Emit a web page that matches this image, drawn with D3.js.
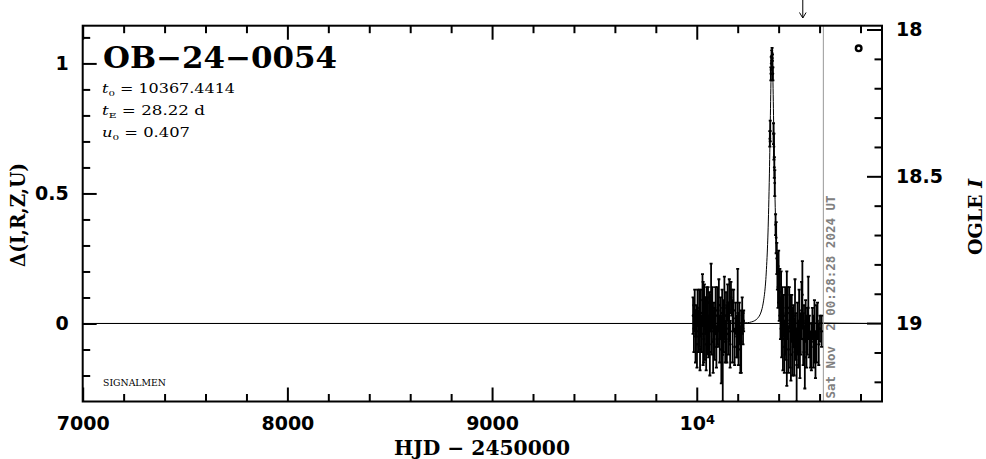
<!DOCTYPE html>
<html>
<head>
<meta charset="utf-8">
<script src="https://cdn.jsdelivr.net/npm/d3@7"></script>
<style>
  html, body { margin: 0; padding: 0; background: #fff; }
  svg { display: block; }
</style>
</head>
<body>
<svg id="chart" width="986" height="459"></svg>
<script>
// ---------------- DATA ----------------
const eventName = "OB\u221224\u22120054";
const paramT0 = "10367.4414";
const paramTE = "28.22";
const paramU0 = "0.407";
const dateStamp = "Sat Nov  2 00:28:28 2024 UT";

const xTicksMajor = [7000, 8000, 9000, 10000];
const xTickLabels = ["7000", "8000", "9000", "10^4"];
const yTicksMajor = [0, 0.5, 1];
const yTickLabels = ["0", "0.5", "1"];
const magTicksMajor = [18, 18.5, 19];
const magTickLabels = ["18", "18.5", "19"];

// observations: HJD-2450000, delta flux, error
const obsHJD = [
  9982, 9986, 9990, 9994, 9998, 10001, 10004, 10008, 10012, 10016,
  10020, 10024, 10028, 10031, 10034, 10037, 10040, 10043, 10046, 10049,
  10052, 10055, 10058, 10061, 10064, 10067, 10070, 10073, 10076, 10080,
  10084, 10088, 10092, 10096, 10100, 10104, 10108, 10112, 10116, 10120,
  10124, 10127, 10131, 10135, 10139, 10143, 10147, 10151, 10155, 10159,
  10163, 10167, 10171, 10175, 10180, 10185, 10190, 10195, 10200, 10204,
  10208, 10213, 10217, 10222, 10226, 10229,
  10357, 10359, 10362, 10364, 10366, 10368, 10370, 10372, 10375, 10377,
  10379, 10381, 10385, 10388, 10391, 10394, 10397, 10400, 10403, 10406,
  10409, 10412, 10415, 10418, 10421, 10424, 10428, 10432, 10436, 10440,
  10444, 10448, 10452, 10456, 10460, 10464, 10468, 10472, 10476, 10480,
  10484, 10488, 10492, 10496, 10500, 10504, 10508, 10512, 10516, 10520,
  10524, 10528, 10532, 10536, 10540, 10545, 10550, 10555, 10560, 10565,
  10570, 10575, 10580, 10585, 10590, 10596, 10602, 10610
];
const obsDelta = [
  0.03, -0.02, 0.05, -0.05, 0.01, -0.08, 0.06, -0.03, 0.02, -0.10,
  0.04, -0.04, 0.09, 0.00, -0.06, 0.07, -0.02, 0.03, -0.08, 0.05,
  -0.01, 0.08, -0.05, 0.02, -0.11, 0.04, 0.12, -0.03, 0.06, -0.07,
  0.01, -0.04, 0.05, -0.09, 0.03, -0.02, 0.07, -0.06, 0.02, -0.10,
  0.04, -0.12, -0.01, 0.06, -0.07, 0.03, -0.04, 0.08, -0.02, 0.05,
  -0.08, 0.10, 0.08, -0.03, 0.05, -0.09, 0.02, -0.05, 0.04, -0.06,
  0.00, -0.10, -0.07, 0.03, -0.02, 0.01,
  0.71, 0.74, 0.96, 1.00, 1.03, 1.04, 1.01, 0.96, 0.73, 0.68,
  0.60, 0.54, 0.38, 0.33, 0.25, 0.20, 0.14, 0.18, 0.08, 0.12,
  0.02, 0.09, -0.03, 0.05, -0.06, 0.03, -0.09, 0.01, -0.05, -0.02,
  0.04, -0.10, 0.06, -0.03, -0.12, 0.02, -0.07, -0.01, -0.09, 0.03,
  -0.05, -0.16, -0.02, -0.08, 0.01, -0.11, -0.04, 0.05, 0.11, -0.06,
  -0.02, -0.13, 0.01, -0.07, -0.03, 0.06, -0.05, -0.10, -0.09, 0.00,
  -0.07, -0.03, -0.12, -0.04, 0.01, -0.08, -0.02, -0.03
];
const obsErr = [
  0.07, 0.09, 0.08, 0.10, 0.06, 0.09, 0.07, 0.08, 0.11, 0.08,
  0.09, 0.07, 0.10, 0.16, 0.09, 0.08, 0.12, 0.07, 0.10, 0.09,
  0.11, 0.06, 0.08, 0.10, 0.09, 0.07, 0.11, 0.09, 0.08, 0.12,
  0.07, 0.10, 0.09, 0.08, 0.11, 0.07, 0.10, 0.09, 0.08, 0.13,
  0.09, 0.18, 0.10, 0.12, 0.08, 0.09, 0.11, 0.07, 0.10, 0.12,
  0.09, 0.06, 0.05, 0.12, 0.08, 0.07, 0.06, 0.08, 0.17, 0.10,
  0.08, 0.09, 0.12, 0.07, 0.06, 0.04,
  0.03, 0.04, 0.025, 0.025, 0.02, 0.02, 0.025, 0.025, 0.04, 0.05,
  0.04, 0.05, 0.04, 0.06, 0.06, 0.07, 0.08, 0.10, 0.07, 0.09,
  0.08, 0.11, 0.10, 0.09, 0.12, 0.08, 0.10, 0.13, 0.09, 0.22,
  0.10, 0.09, 0.08, 0.14, 0.10, 0.09, 0.13, 0.08, 0.11, 0.14,
  0.09, 0.14, 0.10, 0.09, 0.12, 0.10, 0.08, 0.11, 0.13, 0.10,
  0.09, 0.12, 0.08, 0.10, 0.09, 0.12, 0.08, 0.07, 0.09, 0.06,
  0.10, 0.12, 0.09, 0.11, 0.07, 0.08, 0.05, 0.06
];

// model curve
const modelHJD = [
  7000, 9970.4, 10247.4, 10267.4, 10283.4, 10297.4, 10312.4, 10319.4, 10326.4, 10332.4,
  10337.4, 10341.4, 10345.4, 10348.0, 10351.4, 10355.0, 10357.4, 10359.2, 10361.4, 10363.4,
  10365.4, 10367.4, 10369.4, 10371.4, 10373.4, 10375.6, 10377.4, 10379.8, 10383.4, 10386.8,
  10389.4, 10393.4, 10397.4, 10402.4, 10408.4, 10415.4, 10422.4, 10437.4, 10451.4, 10467.4,
  10487.4, 10905
];
const modelDelta = [
  0, 0, 0.003, 0.006, 0.011, 0.020, 0.040, 0.058, 0.087, 0.123,
  0.169, 0.223, 0.290, 0.348, 0.446, 0.578, 0.686, 0.773, 0.880, 0.967,
  1.028, 1.050, 1.028, 0.967, 0.880, 0.773, 0.686, 0.578, 0.446, 0.348,
  0.290, 0.223, 0.169, 0.123, 0.087, 0.058, 0.040, 0.020, 0.011, 0.006,
  0.003, 0
];

const nowHJD = 10618.5;     // grey "now" line
const arrowHJD = 10518;     // arrow on top
const markerHJD = [10791];  // small open circle
const markerDelta = [1.058];

// ---------------- LAYOUT ----------------
const L = 82.7, R = 882, T = 25.7, B = 401.5;
const svg = d3.select("#chart");
svg.append("rect").attr("width", 986).attr("height", 459).attr("fill", "#fff");

const x = d3.scaleLinear().domain([7000, 10905]).range([L, R]);
const y = d3.scaleLinear().domain([-0.3, 1.145]).range([B, T]);
const mag = d3.scaleLinear().domain([17.987, 19.267]).range([T, B]);

const numFont = "'DejaVu Sans', sans-serif";
const serifFont = "'DejaVu Serif', 'Liberation Serif', serif";

// clip
svg.append("defs").append("clipPath").attr("id", "clip")
  .append("rect").attr("x", L).attr("y", T).attr("width", R - L).attr("height", B - T);

// baseline zero line
svg.append("line")
  .attr("x1", L).attr("x2", R).attr("y1", y(0)).attr("y2", y(0))
  .attr("stroke", "#000").attr("stroke-width", 1);

// model curve
const model = modelHJD.map((h, i) => [h, modelDelta[i]]);
svg.append("path")
  .datum(model)
  .attr("clip-path", "url(#clip)")
  .attr("fill", "none").attr("stroke", "#000").attr("stroke-width", 1)
  .attr("d", d3.line().x(d => x(d[0])).y(d => y(d[1])).curve(d3.curveMonotoneX));

// grey now line
svg.append("line")
  .attr("x1", x(nowHJD)).attr("x2", x(nowHJD)).attr("y1", T).attr("y2", B)
  .attr("stroke", "#999").attr("stroke-width", 1);

svg.append("text")
  .attr("transform", `translate(${x(nowHJD) + 12},${B - 3}) rotate(-90)`)
  .attr("font-family", "'DejaVu Sans Mono', monospace")
  .attr("font-weight", "bold").attr("font-size", 11.5)
  .attr("fill", "#808080")
  .attr("textLength", 203).attr("lengthAdjust", "spacingAndGlyphs")
  .attr("xml:space", "preserve")
  .style("white-space", "pre")
  .text(dateStamp);

// observations with error bars
const obs = obsHJD.map((h, i) => ({ h, v: obsDelta[i], e: obsErr[i] }));
const gObs = svg.append("g").attr("clip-path", "url(#clip)")
  .attr("stroke", "#000").attr("stroke-width", 1.8);
gObs.selectAll("line.eb").data(obs).enter().append("line")
  .attr("x1", d => x(d.h)).attr("x2", d => x(d.h))
  .attr("y1", d => y(d.v - d.e)).attr("y2", d => y(d.v + d.e));
gObs.selectAll("line.cu").data(obs).enter().append("line")
  .attr("x1", d => x(d.h) - 1.5).attr("x2", d => x(d.h) + 1.5)
  .attr("y1", d => y(d.v + d.e)).attr("y2", d => y(d.v + d.e));
gObs.selectAll("line.cl").data(obs).enter().append("line")
  .attr("x1", d => x(d.h) - 1.5).attr("x2", d => x(d.h) + 1.5)
  .attr("y1", d => y(d.v - d.e)).attr("y2", d => y(d.v - d.e));
gObs.selectAll("circle").data(obs).enter().append("circle")
  .attr("cx", d => x(d.h)).attr("cy", d => y(d.v)).attr("r", 1.4)
  .attr("fill", "#000").attr("stroke", "none");

// small circle marker
svg.selectAll("circle.mk").data(markerHJD).enter().append("circle")
  .attr("cx", d => x(d)).attr("cy", (d, i) => y(markerDelta[i])).attr("r", 2.8)
  .attr("fill", "none").attr("stroke", "#000").attr("stroke-width", 2.4);

// ---------------- AXES ----------------
function styleAxis(g) {
  g.select(".domain").remove();
  g.selectAll(".tick line").attr("stroke", "#000").attr("stroke-width", 2);
}
const xMinor = d3.range(7200, 10905, 200).filter(v => v % 1000 !== 0);
const yMinor = d3.range(-2, 12).map(v => v / 10).filter(v => v !== 0 && v !== 0.5 && v !== 1);
const magMinor = d3.range(180, 193).map(v => v / 10).filter(v => v !== 18 && v !== 18.5 && v !== 19);

// bottom
const gB = svg.append("g").attr("transform", `translate(0,${B})`)
  .call(d3.axisBottom(x).tickValues(xTicksMajor).tickSize(-14).tickPadding(15)
    .tickFormat((d, i) => xTickLabels[i]));
styleAxis(gB);
gB.selectAll(".tick text").attr("font-family", numFont).attr("font-weight", "bold")
  .attr("font-size", 19).attr("fill", "#000")
  .each(function (d, i) {
    const lab = xTickLabels[i];
    if (lab.includes("^")) {
      const parts = lab.split("^");
      const t = d3.select(this).text(parts[0]);
      t.append("tspan").attr("dy", "-0.45em").attr("font-size", 13).text(parts[1]);
    }
  });
svg.append("g").attr("transform", `translate(0,${B})`)
  .call(d3.axisBottom(x).tickValues(xMinor).tickSize(-7.5).tickFormat(""))
  .call(styleAxis);

// top
svg.append("g").attr("transform", `translate(0,${T})`)
  .call(d3.axisTop(x).tickValues(xTicksMajor).tickSize(-14).tickFormat(""))
  .call(styleAxis);
svg.append("g").attr("transform", `translate(0,${T})`)
  .call(d3.axisTop(x).tickValues(xMinor).tickSize(-7.5).tickFormat(""))
  .call(styleAxis);

// left
const gL = svg.append("g").attr("transform", `translate(${L},0)`)
  .call(d3.axisLeft(y).tickValues(yTicksMajor).tickSize(-14).tickPadding(14)
    .tickFormat((d, i) => yTickLabels[i]));
styleAxis(gL);
gL.selectAll(".tick text").attr("font-family", numFont).attr("font-weight", "bold")
  .attr("font-size", 19).attr("fill", "#000");
svg.append("g").attr("transform", `translate(${L},0)`)
  .call(d3.axisLeft(y).tickValues(yMinor).tickSize(-7.5).tickFormat(""))
  .call(styleAxis);

// right (magnitude)
const gR = svg.append("g").attr("transform", `translate(${R},0)`)
  .call(d3.axisRight(mag).tickValues(magTicksMajor).tickSize(-15).tickPadding(14)
    .tickFormat((d, i) => magTickLabels[i]));
styleAxis(gR);
gR.selectAll(".tick text").attr("font-family", numFont).attr("font-weight", "bold")
  .attr("font-size", 19).attr("fill", "#000");
svg.append("g").attr("transform", `translate(${R},0)`)
  .call(d3.axisRight(mag).tickValues(magMinor).tickSize(-7.5).tickFormat(""))
  .call(styleAxis);

// frame
svg.append("rect").attr("x", L).attr("y", T).attr("width", R - L).attr("height", B - T)
  .attr("fill", "none").attr("stroke", "#000").attr("stroke-width", 2);

// arrow at top
const ax = x(arrowHJD);
svg.append("path")
  .attr("d", `M${ax},0 L${ax},18 M${ax - 3.3},12.5 L${ax},18 L${ax + 3.3},12.5`)
  .attr("fill", "none").attr("stroke", "#000").attr("stroke-width", 1);

// ---------------- TEXT ----------------
svg.append("text").attr("x", 103).attr("y", 68)
  .attr("font-family", serifFont).attr("font-weight", "bold").attr("font-size", 30)
  .attr("textLength", 234).attr("lengthAdjust", "spacingAndGlyphs")
  .text(eventName);

function paramLine(yb, sym, sub, val, len) {
  const t = svg.append("text").attr("x", 102).attr("y", yb)
    .attr("font-family", serifFont).attr("font-size", 12.5)
    .attr("textLength", len).attr("lengthAdjust", "spacingAndGlyphs");
  t.append("tspan").attr("font-style", "italic").text(sym);
  t.append("tspan").attr("font-size", 8).attr("dy", 3).text(sub);
  t.append("tspan").attr("dy", -3).text(" = " + val);
}
paramLine(93, "t", "0", paramT0, 133);
paramLine(115, "t", "E", paramTE + " d", 103);
paramLine(137, "u", "0", paramU0, 88);

svg.append("text").attr("x", 103).attr("y", 386)
  .attr("font-family", serifFont).attr("font-size", 9)
  .attr("textLength", 63).attr("lengthAdjust", "spacingAndGlyphs")
  .text("SIGNALMEN");

// axis titles
svg.append("text").attr("x", 482).attr("y", 455).attr("text-anchor", "middle")
  .attr("font-family", serifFont).attr("font-weight", "bold").attr("font-size", 20)
  .attr("textLength", 176).attr("lengthAdjust", "spacingAndGlyphs")
  .text("HJD \u2212 2450000");

svg.append("text").attr("transform", "translate(25,215) rotate(-90)")
  .attr("text-anchor", "middle")
  .attr("font-family", serifFont).attr("font-weight", "bold").attr("font-size", 20)
  .attr("textLength", 104).attr("lengthAdjust", "spacingAndGlyphs")
  .text("\u0394(I,R,Z,U)");

const og = svg.append("text").attr("transform", "translate(982,217) rotate(-90)")
  .attr("text-anchor", "middle")
  .attr("font-family", serifFont).attr("font-weight", "bold").attr("font-size", 19);
og.append("tspan").text("OGLE ");
og.append("tspan").attr("font-style", "italic").text("I");
</script>
</body>
</html>
